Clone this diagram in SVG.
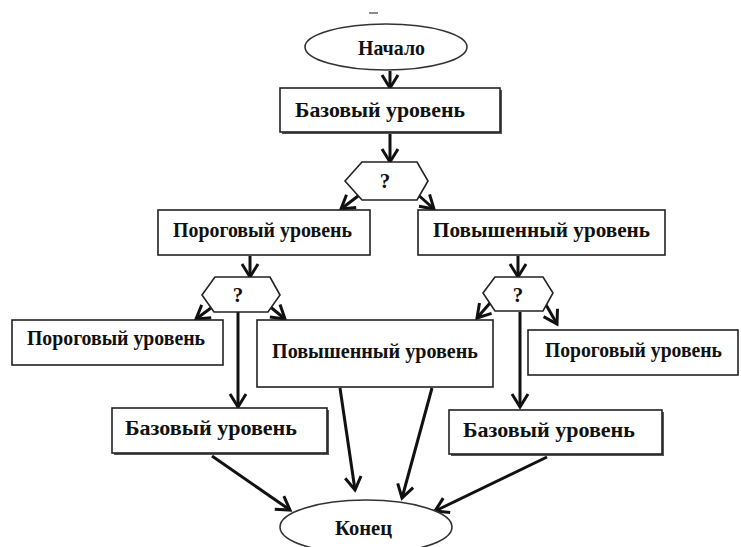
<svg xmlns="http://www.w3.org/2000/svg" width="741" height="547" viewBox="0 0 741 547">
<style>
.box{fill:#fff;stroke:#222;stroke-width:1.6}
.shadow{fill:#555}
.term{fill:#fff;stroke:#333;stroke-width:1.6}
.t{font-family:"Liberation Serif","Times New Roman",serif;font-weight:bold;font-size:21px;fill:#111}
.c{fill:none;stroke:#111;stroke-width:3}
</style>
<defs>
<marker id="ah" markerUnits="userSpaceOnUse" markerWidth="20" markerHeight="20" viewBox="-14 -10 16 20" refX="0" refY="0" orient="auto">
<path d="M-13,-8 L0,0 L-13,8" fill="none" stroke="#111" stroke-width="3"/>
</marker>
</defs>
<rect width="741" height="547" fill="#fff"/>
<line x1="369" y1="13" x2="378" y2="13" stroke="#666" stroke-width="1.5"/>
<g id="connectors">
<line class="c" x1="390" y1="71" x2="390" y2="88" marker-end="url(#ah)"/>
<line class="c" x1="390" y1="134" x2="390" y2="162" marker-end="url(#ah)"/>
<line class="c" x1="362" y1="193" x2="341" y2="209" marker-end="url(#ah)"/>
<line class="c" x1="416" y1="193" x2="434" y2="209" marker-end="url(#ah)"/>
<line class="c" x1="250" y1="256" x2="250" y2="277" marker-end="url(#ah)"/>
<line class="c" x1="518" y1="256" x2="518" y2="277" marker-end="url(#ah)"/>
<line class="c" x1="215" y1="305" x2="196" y2="319" marker-end="url(#ah)"/>
<line class="c" x1="268" y1="305" x2="285" y2="319" marker-end="url(#ah)"/>
<line class="c" x1="238" y1="312" x2="238" y2="407" marker-end="url(#ah)"/>
<line class="c" x1="490" y1="303" x2="477" y2="318" marker-end="url(#ah)"/>
<line class="c" x1="545" y1="303" x2="557" y2="324" marker-end="url(#ah)"/>
<line class="c" x1="520" y1="312" x2="520" y2="407" marker-end="url(#ah)"/>
<line class="c" x1="212" y1="456" x2="290" y2="510" marker-end="url(#ah)"/>
<line class="c" x1="340" y1="388" x2="355" y2="490" marker-end="url(#ah)"/>
<line class="c" x1="432" y1="388" x2="402" y2="498" marker-end="url(#ah)"/>
<line class="c" x1="547" y1="457" x2="435" y2="511" marker-end="url(#ah)"/>
</g>
<g id="start">
<ellipse class="term" cx="386" cy="47" rx="81" ry="23"/>
<text class="t" x="358" y="55" textLength="67" lengthAdjust="spacingAndGlyphs">Начало</text>
</g>
<g id="base-top">
<rect class="shadow" x="282" y="90" width="220" height="44"/>
<rect class="box" x="280" y="88" width="220" height="44"/>
<text class="t" x="295" y="117" textLength="170" lengthAdjust="spacingAndGlyphs">Базовый уровень</text>
</g>
<g id="q1">
<polygon class="box" points="345,181 362,162 417,162 428,181 417,200 362,200"/>
<text class="t" x="385" y="188" text-anchor="middle">?</text>
</g>
<g id="threshold-2">
<rect class="box" x="158" y="210" width="212" height="45"/>
<text class="t" x="173" y="237" textLength="179" lengthAdjust="spacingAndGlyphs">Пороговый уровень</text>
</g>
<g id="advanced-2">
<rect class="box" x="418" y="210" width="247" height="45"/>
<text class="t" x="433" y="237" textLength="217" lengthAdjust="spacingAndGlyphs">Повышенный уровень</text>
</g>
<g id="q2">
<polygon class="box" points="202,295 215,277 270,277 280,295 268,312 214,312"/>
<text class="t" x="238" y="302" text-anchor="middle">?</text>
</g>
<g id="q3">
<polygon class="box" points="483,293 495,277 543,277 553,293 543,311 495,311"/>
<text class="t" x="518" y="302" text-anchor="middle">?</text>
</g>
<g id="threshold-3l">
<rect class="box" x="12" y="320" width="211" height="45"/>
<text class="t" x="27" y="345" textLength="178" lengthAdjust="spacingAndGlyphs">Пороговый уровень</text>
</g>
<g id="advanced-3">
<rect class="box" x="257" y="320" width="236" height="67"/>
<text class="t" x="272" y="358" textLength="206" lengthAdjust="spacingAndGlyphs">Повышенный уровень</text>
</g>
<g id="threshold-3r">
<rect class="box" x="528" y="330" width="210" height="45"/>
<text class="t" x="545" y="357" textLength="177" lengthAdjust="spacingAndGlyphs">Пороговый уровень</text>
</g>
<g id="base-bl">
<rect class="shadow" x="114" y="410" width="215" height="45"/>
<rect class="box" x="112" y="408" width="215" height="45"/>
<text class="t" x="125" y="435" textLength="172" lengthAdjust="spacingAndGlyphs">Базовый уровень</text>
</g>
<g id="base-br">
<rect class="shadow" x="451" y="412" width="213" height="44"/>
<rect class="box" x="449" y="410" width="213" height="44"/>
<text class="t" x="463" y="437" textLength="172" lengthAdjust="spacingAndGlyphs">Базовый уровень</text>
</g>
<g id="end">
<ellipse class="term" cx="366" cy="527" rx="86" ry="27"/>
<text class="t" x="335" y="535" textLength="57" lengthAdjust="spacingAndGlyphs">Конец</text>
</g>
</svg>
